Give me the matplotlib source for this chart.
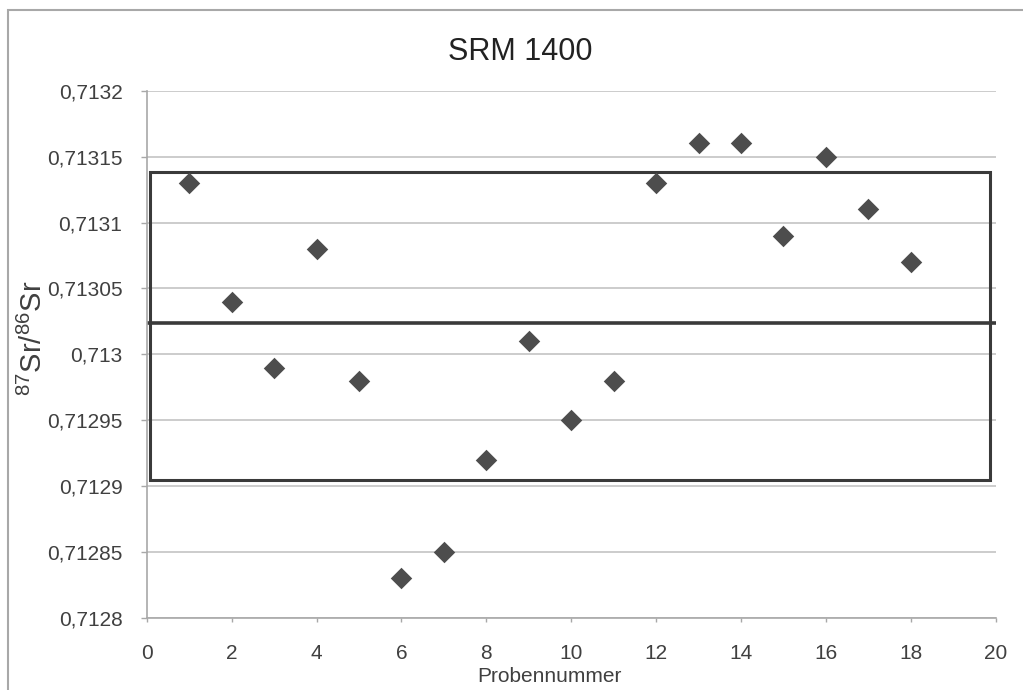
import matplotlib.pyplot as plt
from matplotlib.ticker import FuncFormatter, MultipleLocator
from matplotlib.patches import Rectangle

plt.rcParams['font.family'] = ['Liberation Sans', 'DejaVu Sans']
plt.rcParams['mathtext.fontset'] = 'custom'
plt.rcParams['mathtext.rm'] = 'Liberation Sans'
plt.rcParams['mathtext.it'] = 'Liberation Sans'

# measured ratios per sample
probe = list(range(1, 19))
ratio = [0.71313, 0.71304, 0.71299, 0.71308, 0.71298, 0.71283, 0.71285, 0.71292, 0.71301,
         0.71295, 0.71298, 0.71313, 0.71316, 0.71316, 0.71309, 0.71315, 0.71311, 0.71307]

# reference value and accepted range
ref_mean = 0.713024
ref_low = 0.712905
ref_high = 0.713138
box_x = [0.08, 19.87]

text_col = "#404040"
mark_col = "#4d4d4d"

fig = plt.figure(figsize=(10.23, 6.9), dpi=100)
ax = fig.add_axes([146.7/1023, 1-618/690, (995.7-146.7)/1023, (618-90.7)/690])

ax.scatter(probe, ratio, marker="D", s=120, color=mark_col, zorder=3, linewidths=0)
ax.axhline(ref_mean, color="#3a3a3a", lw=2.6, zorder=2)
ax.add_patch(Rectangle((box_x[0], ref_low), box_x[1]-box_x[0], ref_high-ref_low,
                       fill=False, edgecolor="#3a3a3a", lw=2.2, zorder=2))

ax.set_xlim(0, 20)
ax.set_ylim(0.7128, 0.7132)
ax.xaxis.set_major_locator(MultipleLocator(2))
ax.yaxis.set_major_locator(MultipleLocator(0.00005))
ax.yaxis.set_major_formatter(FuncFormatter(lambda v, p: ("%.5f" % v).rstrip("0").replace(".", ",")))

ax.grid(axis="y", color="#c4c4c4", lw=1.2)
ax.set_axisbelow(True)
for s in ["top", "right"]:
    ax.spines[s].set_visible(False)
for s in ["left", "bottom"]:
    ax.spines[s].set_color("#a8a8a8")
    ax.spines[s].set_linewidth(1.2)
ax.tick_params(axis="y", length=4.5, width=1, color="#a8a8a8", labelsize=15, labelcolor=text_col, pad=13)
ax.tick_params(axis="x", length=3, width=1, color="#a8a8a8", labelsize=15, labelcolor=text_col, pad=16)

fig.text(520/1023, 1-52/690, "SRM 1400", ha="center", va="center", fontsize=22, color="#222222")
fig.text(549/1023, 1-677/690, "Probennummer", ha="center", va="center", fontsize=15, color=text_col)
fig.text(33/1023, 1-338/690, r"$^{87}$Sr/$^{86}$Sr", ha="center", va="center", rotation=90,
         fontsize=21, color=text_col)

# outer chart frame
fig.add_artist(Rectangle((8/1023, -0.1), 1.2, 1.1 - 10/690, transform=fig.transFigure,
                         fill=False, edgecolor="#a8a8a8", lw=1.5))

fig.savefig("out.png", dpi=100)
